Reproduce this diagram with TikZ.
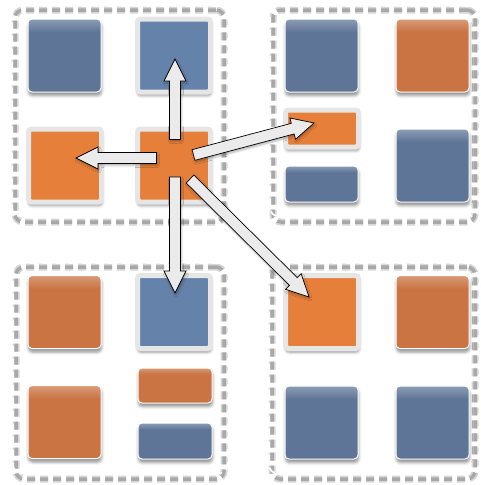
\documentclass[tikz,border=0pt]{standalone}
\usetikzlibrary{calc,shadows.blur}
\definecolor{blueD}{HTML}{5F7597}
\definecolor{blueH}{HTML}{6582AA}
\definecolor{orangeD}{HTML}{C97442}
\definecolor{orangeH}{HTML}{E57F3A}
\definecolor{hlborder}{HTML}{E6E6E6}
\definecolor{arrowfill}{HTML}{EBEBEB}
\pgfdeclareverticalshading{blueshade}{100bp}{color(0bp)=(blueD); color(66bp)=(blueD); color(75bp)=(blueD!72!white); color(100bp)=(blueD!72!white)}
\pgfdeclareverticalshading{orangeshade}{100bp}{color(0bp)=(orangeD); color(66bp)=(orangeD); color(75bp)=(orangeD!72!white); color(100bp)=(orangeD!72!white)}
\tikzset{
  sq/.style={inner sep=0pt, outer sep=0pt, minimum width=73pt, minimum height=73pt},
  plain/.style={draw=white, line width=1pt, rounded corners=4pt, shading=#1,
    blur shadow={shadow xshift=0.5pt, shadow yshift=-3.5pt, shadow blur radius=3pt, shadow opacity=45}},
  hl/.style={draw=hlborder, line width=5pt, rounded corners=3pt, fill=#1,
    blur shadow={shadow xshift=0.5pt, shadow yshift=-3.5pt, shadow blur radius=3pt, shadow opacity=45}},
  grp/.style={inner sep=0pt, outer sep=0pt, draw=white, line width=1.8pt, rounded corners=8pt,
    dash pattern=on 8pt off 5pt},
  grpshadow/.style={inner sep=0pt, outer sep=0pt, rounded corners=8pt, dash pattern=on 8pt off 5pt,
    draw=black!16, line width=7pt,
    postaction={draw=black!34, line width=3.5pt}},
  blockarrow/.style={fill=arrowfill, draw=black, line width=0.7pt, line join=miter,
    blur shadow={shadow xshift=1pt, shadow yshift=-2pt, shadow blur radius=2pt, shadow opacity=30}},
}
\newcommand\blkarrow[2]{%
  \path[blockarrow] let \p1=($(#2)!22pt!(#1)$) in
   ($(#1)!5.5pt!90:(#2)$) -- ($(\p1)!5.5pt!90:(#2)$) -- ($(\p1)!11pt!90:(#2)$) -- (#2)
   -- ($(\p1)!11pt!-90:(#2)$) -- ($(\p1)!5.5pt!-90:(#2)$) -- ($(#1)!5.5pt!-90:(#2)$) -- cycle;}
\begin{document}
\begin{tikzpicture}[x=1pt,y=-1pt]
\useasboundingbox (0,0) rectangle (481,485);
% group shadows
\node[grpshadow, minimum width=209pt, minimum height=212pt] (G1s) at (119.5,116) {};
\node[grpshadow, minimum width=202pt, minimum height=212pt] (G2s) at (374,116) {};
\node[grpshadow, minimum width=208pt, minimum height=212pt] (G3s) at (120,373) {};
\node[grpshadow, minimum width=203pt, minimum height=212pt] (G4s) at (373.5,373) {};
% groups
\node[grp, minimum width=216pt, minimum height=210pt] (G1) at (120,111) {};
\node[grp, minimum width=209pt, minimum height=210pt] (G2) at (374.5,111) {};
\node[grp, minimum width=215pt, minimum height=210pt] (G3) at (120.5,368) {};
\node[grp, minimum width=210pt, minimum height=210pt] (G4) at (374,368) {};
% group 1
\node[sq, plain=blueshade] (a1) at (64.5,55.5) {};
\node[sq, hl=blueH] (a2) at (174,55.5) {};
\node[sq, hl=orangeH] (a3) at (65,165.5) {};
\node[sq, hl=orangeH] (a4) at (174,165.5) {};
% group 2
\node[sq, plain=blueshade] (b1) at (321.5,55.5) {};
\node[sq, plain=orangeshade] (b2) at (432.5,55.5) {};
\node[sq, hl=orangeH, minimum height=37pt] (b3) at (322,128.5) {};
\node[sq, plain=blueshade, minimum height=36pt] (b4) at (321.5,184) {};
\node[sq, plain=blueshade] (b5) at (432.5,165.5) {};
% group 3
\node[sq, plain=orangeshade] (c1) at (64.5,312) {};
\node[sq, hl=blueH] (c2) at (174,312) {};
\node[sq, plain=orangeshade, minimum width=74pt, minimum height=35pt] (c3) at (175,385.5) {};
\node[sq, plain=blueshade, minimum width=74pt, minimum height=36pt] (c4) at (175,441) {};
\node[sq, plain=orangeshade] (c5) at (64.5,422) {};
% group 4
\node[sq, hl=orangeH] (d1) at (322,312) {};
\node[sq, plain=orangeshade] (d2) at (432.5,312) {};
\node[sq, plain=blueshade] (d3) at (321.5,422.5) {};
\node[sq, plain=blueshade] (d4) at (432.5,422.5) {};
% arrow ends
\coordinate (upS) at (175,139.5);  \coordinate (upT) at (175,59);
\coordinate (lfS) at (156.5,158);  \coordinate (lfT) at (76,158);
\coordinate (dnS) at (175,177);    \coordinate (dnT) at (175,293);
\coordinate (ruS) at (193.5,155);  \coordinate (ruT) at (314,123);
\coordinate (drS) at (190,179);    \coordinate (drT) at (309,297);
\blkarrow{upS}{upT}
\blkarrow{lfS}{lfT}
\blkarrow{dnS}{dnT}
\blkarrow{ruS}{ruT}
\blkarrow{drS}{drT}
\end{tikzpicture}
\end{document}
